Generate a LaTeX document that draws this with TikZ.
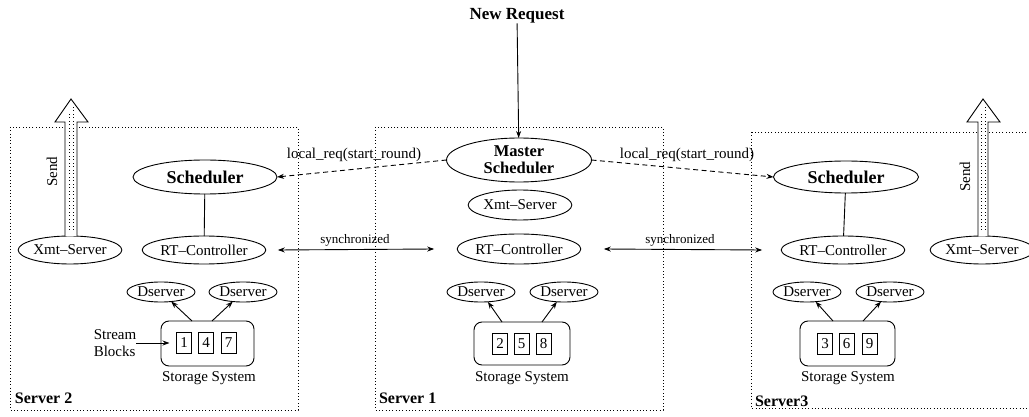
\documentclass[tikz,border=0pt]{standalone}
\usepackage{fontspec}
\setmainfont{Liberation Serif}
\usetikzlibrary{shapes.geometric,arrows.meta}

\begin{document}
\begin{tikzpicture}[x=1pt,y=-1pt,line width=0.9pt,
  every node/.style={inner sep=0pt,outer sep=0pt},
  txt/.style={font=\fontsize{15}{17}\selectfont},
  oval/.style={ellipse,draw,inner sep=0pt,font=\fontsize{15}{17}\selectfont},
  boldoval/.style={ellipse,draw,inner sep=0pt,font=\fontsize{18}{20}\bfseries},
  dsrv/.style={ellipse,draw,inner sep=0pt,minimum width=68pt,minimum height=20pt,
               font=\fontsize{15}{16}\selectfont},
  blk/.style={draw,minimum width=15pt,minimum height=21pt,line width=0.8pt,
              font=\fontsize{15}{17}\selectfont},
  store/.style={draw,rounded corners=8pt},
  srvbox/.style={line width=0.8pt,dash pattern=on 0.9pt off 2.4pt},
  srvname/.style={anchor=west,font=\fontsize{16}{18}\bfseries},
  tip/.style={-{Stealth[length=7pt,width=5pt]}},
  twotip/.style={{Stealth[length=7pt,width=5pt]}-{Stealth[length=7pt,width=5pt]}},
  reqline/.style={tip,dash pattern=on 5pt off 3.5pt},
  small/.style={font=\fontsize{13}{15}\selectfont},
  sendbody/.style={draw,fill=white,line width=0.9pt},
  senddots/.style={line width=0.9pt,dash pattern=on 0.9pt off 2.6pt}
]
\useasboundingbox (0,0) rectangle (1029,417);
\clip (0,0) rectangle (1029,417);

% ---------- server frames ----------
\draw[srvbox] (10,127) rectangle (298,410);
\draw[srvbox] (375,127) rectangle (663,410);
\draw[srvbox] (751,132) rectangle (1040,408);
\node[srvname] (lbl2) at (15,398) {Server 2};
\node[srvname] (lbl1) at (379,398) {Server 1};
\node[srvname] (lbl3) at (755,401) {Server3};

% ---------- Server 1 (master) ----------
\node[font=\fontsize{17}{19}\bfseries] (newreq) at (517,16) {New Request};
\node[ellipse,draw,inner xsep=0pt,inner ysep=-5pt,minimum width=145pt,minimum height=44pt,
      align=center,font=\fontsize{16.5}{17}\bfseries] (master) at (519,160) {Master\\Scheduler};
\node[oval,minimum width=100pt,minimum height=30pt] (xmt1) at (520,205) {Xmt--Server};
\node[oval,minimum width=122pt,minimum height=30pt] (rt1) at (519,249) {RT--Controller};
\node[dsrv] (ds1a) at (481,292) {Dserver};
\node[dsrv] (ds1b) at (564,292) {Dserver};
\draw[store] (474,322) rectangle (570,365);
\node[blk] (b2) at (500,344) {2};
\node[blk] (b5) at (521.5,344) {5};
\node[blk] (b8) at (543.5,344) {8};
\node[txt] (ss1) at (522,378) {Storage System};
\coordinate (s1l) at (502,322);
\coordinate (s1r) at (542,322);
\draw[tip] (s1l) -- (ds1a);
\draw[tip] (s1r) -- (ds1b);
\draw[tip] (newreq) -- (master);

% ---------- Server 2 ----------
\node[boldoval,minimum width=144pt,minimum height=34pt] (sch2) at (205,177) {Scheduler};
\node[oval,minimum width=122pt,minimum height=28pt] (rt2) at (204,250) {RT--Controller};
\node[oval,minimum width=98pt,minimum height=28pt] (xmt2) at (70,250) {Xmt--Server};
\node[dsrv] (ds2a) at (161,292) {Dserver};
\node[dsrv] (ds2b) at (243,292) {Dserver};
\draw[store] (161,321) rectangle (254,366);
\node[blk] (b1) at (184,343) {1};
\node[blk] (b4) at (206,343) {4};
\node[blk] (b7) at (228.5,343) {7};
\node[txt] (ss2) at (209,378) {Storage System};
\node[txt,align=left] (stream) at (115,343) {Stream\\Blocks};
\coordinate (s2l) at (192,321);
\coordinate (s2r) at (212,321);
\draw[tip] (s2l) -- (ds2a);
\draw[tip] (s2r) -- (ds2b);
\draw[tip,shorten >=7pt] (stream.east) -- (b1.west);
\draw (sch2) -- (rt2);

% ---------- Server 3 ----------
\node[boldoval,minimum width=145pt,minimum height=32pt] (sch3) at (846,177) {Scheduler};
\node[oval,minimum width=116pt,minimum height=28pt] (rt3) at (843,250) {RT--Controller};
\node[oval,minimum width=98pt,minimum height=28pt] (xmt3) at (982,250) {Xmt--Server};
\node[dsrv] (ds3a) at (807,292) {Dserver};
\node[dsrv] (ds3b) at (890,292) {Dserver};
\draw[store] (800,321) rectangle (895,366);
\node[blk] (b3) at (825,343.5) {3};
\node[blk] (b6) at (846.5,343.5) {6};
\node[blk] (b9) at (869.5,343.5) {9};
\node[txt] (ss3) at (848,378) {Storage System};
\coordinate (s3l) at (833,321);
\coordinate (s3r) at (863,321);
\draw[tip] (s3l) -- (ds3a);
\draw[tip] (s3r) -- (ds3b);
\draw (sch3) -- (rt3);

% ---------- requests from the master ----------
\draw[reqline] (master.west) -- (sch2.east);
\draw[reqline] (master.east) -- (sch3.west);
\node[txt] (req2) at (354,155) {local\_req(start\_round)};
\node[txt] (req3) at (687,155) {local\_req(start\_round)};

% ---------- synchronisation ----------
\draw[twotip] ([xshift=12pt]rt2.east) -- ([xshift=-23pt]rt1.west);
\draw[twotip] ([xshift=23pt]rt1.east) -- ([xshift=-19pt]rt3.west);
\node[small] (sync2) at (355,240) {synchronized};
\node[small] (sync3) at (680,240) {synchronized};

% ---------- Send arrows ----------
\draw[sendbody] (xmt2.north -| 65,0) -- (65,122) -- (55,122) -- (71,99) -- (88,122)
  -- (77,122) -- (xmt2.north -| 77,0);
\draw[senddots] (69.3,230) -- (69.3,112);
\draw[senddots] (73,230) -- (73,106);
\node[txt,rotate=90] (send2) at (52,172) {Send};

\draw[sendbody] (xmt3.north -| 978,0) -- (978,122) -- (967,122) -- (983,99) -- (1000,122)
  -- (988,122) -- (xmt3.north -| 988,0);
\draw[senddots] (981.3,230) -- (981.3,112);
\draw[senddots] (985,230) -- (985,106);
\node[txt,rotate=90] (send3) at (965,177) {Send};
\end{tikzpicture}
\end{document}
